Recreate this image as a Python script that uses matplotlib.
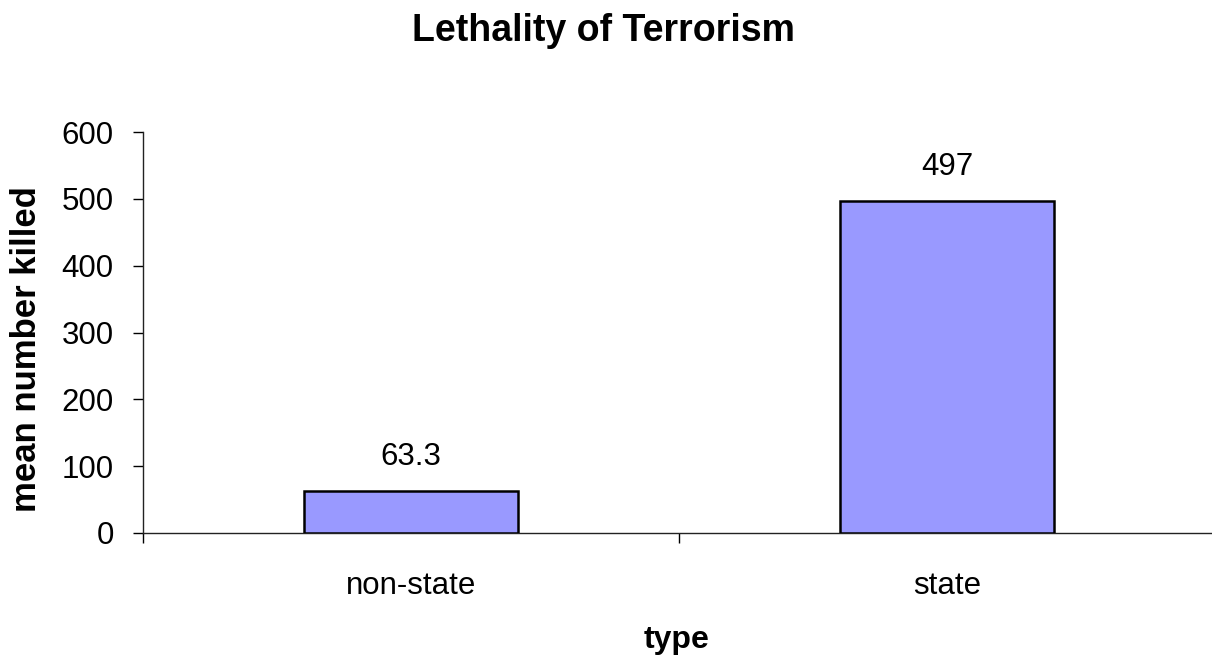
import matplotlib.pyplot as plt
from matplotlib.ticker import FixedLocator

## --- Data ---
categories = ["non-state", "state"]
mean_killed = [63.3, 497]
value_labels = ["63.3", "497"]
y_ticks = [0, 100, 200, 300, 400, 500, 600]

## --- Style ---
FONT = "Liberation Sans"
BAR_COLOR = "#9999FF"
W, H = 1212, 671
TXT = 22.5

plt.rcParams['font.family'] = [FONT, 'DejaVu Sans']

fig = plt.figure(figsize=(W / 100, H / 100), dpi=100)
# plot area in pixel terms: left 143, right 1215, top 132, bottom 533
ax = fig.add_axes([143 / W, (H - 533) / H, 1072 / W, 401 / H])

xpos = list(range(len(categories)))
ax.bar(xpos, mean_killed, width=0.4, color=BAR_COLOR, edgecolor="black", linewidth=1.8, zorder=3)

for x, v, lab in zip(xpos, mean_killed, value_labels):
    ax.annotate(lab, (x, v), xytext=(0, 18.5), textcoords="offset points",
                ha="center", va="baseline", fontsize=TXT)

ax.set_xlim(-0.5, len(categories) - 0.5)
ax.set_ylim(0, 600)
ax.set_yticks(y_ticks)
ax.set_yticklabels([str(t) for t in y_ticks], fontsize=TXT)

# tick marks between categories, labels at category centres
ax.xaxis.set_major_locator(FixedLocator([i - 0.5 for i in range(len(categories) + 1)]))
ax.xaxis.set_major_formatter(plt.NullFormatter())
ax.set_xticks(xpos, minor=True)
ax.set_xticklabels(categories, minor=True, fontsize=TXT)
ax.tick_params(axis="x", which="minor", length=0, pad=27)
ax.tick_params(axis="x", which="major", length=7, width=1, direction="out")
ax.tick_params(axis="y", length=7, width=1, direction="out", pad=14)

for s in ["top", "right"]:
    ax.spines[s].set_visible(False)
for s in ["left", "bottom"]:
    ax.spines[s].set_linewidth(1)
    ax.spines[s].set_color("#222222")

fig.text(604 / W, 1 - 31 / H, "Lethality of Terrorism", ha="center", va="center",
         fontsize=27, fontweight="bold")
fig.text(27 / W, 1 - 349 / H, "mean number killed", ha="center", va="center",
         rotation=90, fontsize=25, fontweight="bold")
fig.text(677 / W, 1 - 640 / H, "type", ha="center", va="center",
         fontsize=23, fontweight="bold")

fig.savefig("out.png", dpi=100)
